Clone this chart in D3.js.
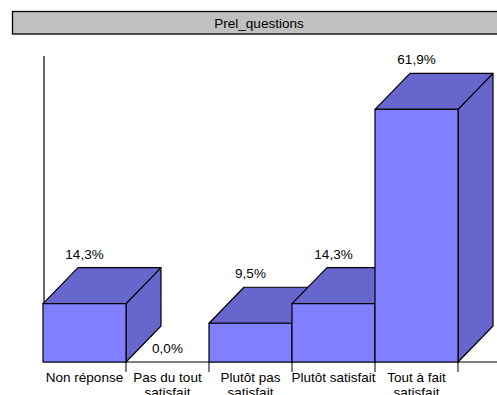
<!DOCTYPE html>
<html>
<head>
<meta charset="utf-8">
<script src="https://cdn.jsdelivr.net/npm/d3@7"></script>
<style>
  html, body { margin: 0; padding: 0; background: #fff; }
  svg { display: block; }
  text { font-family: "Liberation Sans", Arial, Helvetica, sans-serif; font-size: 13.5px; fill: #000; }
</style>
</head>
<body>
<svg id="chart" width="497" height="395"></svg>
<script>
const title = "Prel_questions";
const categories = ["Non réponse", "Pas du tout\nsatisfait", "Plutôt pas\nsatisfait", "Plutôt satisfait", "Tout à fait\nsatisfait"];
const values = [14.3, 0.0, 9.5, 14.3, 61.9];
const valueLabels = ["14,3%", "0,0%", "9,5%", "14,3%", "61,9%"];

const W = 497, H = 395;
const svg = d3.select("#chart");

// title banner
svg.append("rect")
  .attr("x", 12.5).attr("y", 11.5).attr("width", 500).attr("height", 22.5)
  .attr("fill", "#c0c0c0").attr("stroke", "#000").attr("stroke-width", 1.3);
svg.append("text")
  .attr("x", 259).attr("y", 28)
  .attr("text-anchor", "middle")
  .text(title);

const x = d3.scaleBand().domain(categories).range([43, 458]).padding(0);
const y = d3.scaleLinear().domain([0, 75]).range([362, 56]);
const depthX = 35, depthY = 36;

const frontColor = "#8080ff";
const sideColor = "#6666cc";

// vertical axis line
svg.append("line")
  .attr("x1", 44).attr("x2", 44).attr("y1", y(75)).attr("y2", y(0))
  .attr("stroke", "#000").attr("stroke-width", 1.2);

// baseline
svg.append("line")
  .attr("x1", 43).attr("x2", W).attr("y1", y(0)).attr("y2", y(0))
  .attr("stroke", "#000").attr("stroke-width", 1.2);

// category tick marks
const bounds = categories.map(c => x(c) + x.bandwidth());
svg.append("g").selectAll("line").data(bounds).join("line")
  .attr("x1", d => d).attr("x2", d => d)
  .attr("y1", y(0)).attr("y2", y(0) + 10)
  .attr("stroke", "#000").attr("stroke-width", 1);

// 3D bars, drawn left to right so later bars overlap earlier side faces
const bars = svg.append("g");
categories.forEach((c, i) => {
  const v = values[i];
  if (v <= 0) return;
  const x0 = x(c), x1 = x0 + x.bandwidth();
  const yt = y(v), yb = y(0);
  const g = bars.append("g").attr("stroke", "#000").attr("stroke-width", 1.2).attr("stroke-linejoin", "round");
  // right side face
  g.append("path")
    .attr("d", `M${x1},${yt} L${x1 + depthX},${yt - depthY} L${x1 + depthX},${yb - depthY} L${x1},${yb} Z`)
    .attr("fill", sideColor);
  // top face
  g.append("path")
    .attr("d", `M${x0},${yt} L${x0 + depthX},${yt - depthY} L${x1 + depthX},${yt - depthY} L${x1},${yt} Z`)
    .attr("fill", sideColor);
  // front face
  g.append("rect")
    .attr("x", x0).attr("y", yt).attr("width", x.bandwidth()).attr("height", yb - yt)
    .attr("fill", frontColor);
});

// value labels: above the back edge of the top face, or just above the floor for empty bars
svg.append("g").selectAll("text").data(values).join("text")
  .attr("x", (d, i) => x(categories[i]) + x.bandwidth() / 2)
  .attr("y", d => (d > 0 ? y(d) - depthY : y(d)) - 9)
  .attr("text-anchor", "middle")
  .text((d, i) => valueLabels[i]);

// category labels
const catG = svg.append("g");
categories.forEach(c => {
  const t = catG.append("text")
    .attr("x", x(c) + x.bandwidth() / 2)
    .attr("y", 382)
    .attr("text-anchor", "middle");
  c.split("\n").forEach((line, k) => {
    t.append("tspan")
      .attr("x", x(c) + x.bandwidth() / 2)
      .attr("dy", k === 0 ? 0 : 15)
      .text(line);
  });
});
</script>
</body>
</html>
